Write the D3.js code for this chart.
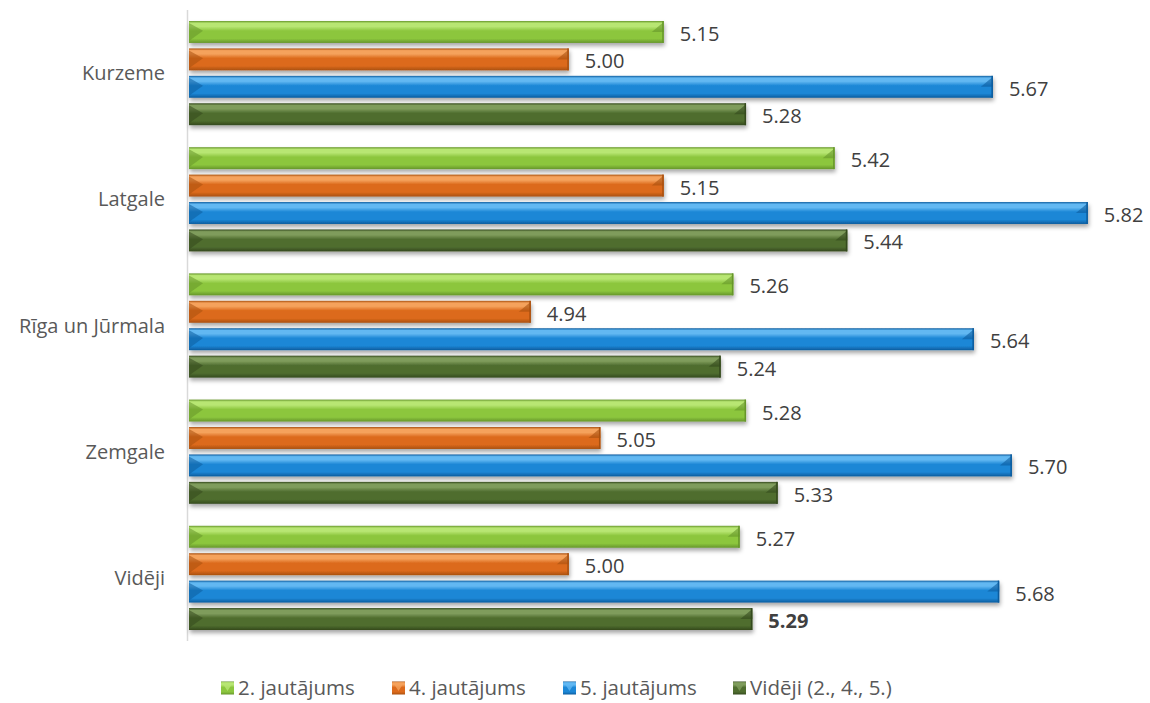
<!DOCTYPE html>
<html>
<head>
<meta charset="utf-8">
<script src="https://cdn.jsdelivr.net/npm/d3@7"></script>
<style>
  body { margin: 0; background: #fff; }
  svg text { font-family: "Open Sans", "DejaVu Sans", sans-serif; }
</style>
</head>
<body>
<svg id="chart" width="1150" height="703"></svg>
<script>
// data
const regions = ["Kurzeme", "Latgale", "Rīga un Jūrmala", "Zemgale", "Vidēji"];
const seriesNames = ["2. jautājums", "4. jautājums", "5. jautājums", "Vidēji (2., 4., 5.)"];
const q2 = [5.15, 5.42, 5.26, 5.28, 5.27];
const q4 = [5.00, 5.15, 4.94, 5.05, 5.00];
const q5 = [5.67, 5.82, 5.64, 5.70, 5.68];
const avg = [5.28, 5.44, 5.24, 5.33, 5.29];

const seriesValues = [q2, q4, q5, avg];
// main / light / dark shades per series
const shades = [
  ["#8cc63e", "#b8e673", "#66962a"],
  ["#dc6a1c", "#f5a25c", "#a9500f"],
  ["#1c87d6", "#62b8f2", "#0c5c9e"],
  ["#4f6d2f", "#7f9c5c", "#34491d"]
];

const svg = d3.select("#chart");

let defs = svg.append("defs");
let f = defs.append("filter").attr("id", "shadow")
    .attr("x", "-5%").attr("y", "-30%").attr("width", "110%").attr("height", "180%");
f.append("feDropShadow").attr("dx", 1).attr("dy", 3).attr("stdDeviation", 2)
    .attr("flood-color", "#000").attr("flood-opacity", 0.35);

shades.forEach(function (s, i) {
  let g = defs.append("linearGradient").attr("id", "grad" + i)
      .attr("x1", 0).attr("y1", 0).attr("x2", 0).attr("y2", 1);
  g.append("stop").attr("offset", "0%").attr("stop-color", s[2]);
  g.append("stop").attr("offset", "10%").attr("stop-color", s[1]);
  g.append("stop").attr("offset", "25%").attr("stop-color", s[1]);
  g.append("stop").attr("offset", "45%").attr("stop-color", s[0]);
  g.append("stop").attr("offset", "80%").attr("stop-color", s[0]);
  g.append("stop").attr("offset", "100%").attr("stop-color", s[2]);
});

// scales
let x = d3.scaleLinear().domain([4.4, 5.9]).range([189, 189 + 1.5 * 633]);
let y0 = d3.scaleBand().domain(regions).range([10, 641]);
let y1 = d3.scaleBand().domain(d3.range(seriesNames.length))
    .range([11, y0.bandwidth() - 11]).paddingInner(0.2);

// axis line
svg.append("line")
    .attr("x1", 187.5).attr("x2", 187.5).attr("y1", 10).attr("y2", 641)
    .attr("stroke", "#d9d9d9").attr("stroke-width", 1.5);

// category labels
svg.selectAll("text.cat").data(regions).enter()
  .append("text").attr("class", "cat")
    .attr("x", 165)
    .attr("y", d => y0(d) + y0.bandwidth() / 2)
    .attr("dy", "0.35em")
    .attr("text-anchor", "end")
    .attr("font-size", 20)
    .attr("fill", "#595959")
    .text(d => d);

// bars
let rows = [];
regions.forEach(function (r, ri) {
  seriesValues.forEach(function (vals, si) {
    rows.push({ region: r, ri: ri, si: si, value: vals[ri] });
  });
});

const bh = y1.bandwidth();
let bars = svg.selectAll("g.bar").data(rows).enter()
  .append("g").attr("class", "bar")
    .attr("transform", d => "translate(0," + (y0(d.region) + y1(d.si)) + ")");

bars.append("rect")
    .attr("x", x(4.4))
    .attr("y", 0)
    .attr("width", d => x(d.value) - x(4.4))
    .attr("height", bh)
    .attr("fill", d => "url(#grad" + d.si + ")")
    .attr("filter", "url(#shadow)");

// bevel at the left end
bars.append("path")
    .attr("d", function (d) {
      let x0 = x(4.4);
      return "M" + x0 + ",2 L" + (x0 + 14) + "," + (bh * 0.45) + " L" + x0 + "," + (bh - 2) + "Z";
    })
    .attr("fill", d => shades[d.si][2]).attr("opacity", 0.55);

// bevel at the right end
bars.append("path")
    .attr("d", function (d) {
      let xe = x(d.value);
      return "M" + xe + ",1 L" + (xe - 12) + "," + (bh * 0.5) + " L" + xe + "," + (bh * 0.5) + "Z";
    })
    .attr("fill", d => shades[d.si][2]).attr("opacity", 0.6);

bars.append("rect")
    .attr("x", d => x(d.value) - 1.5).attr("y", 0)
    .attr("width", 1.5).attr("height", bh)
    .attr("fill", d => shades[d.si][2]);

// value labels
bars.append("text")
    .attr("x", d => x(d.value) + 16)
    .attr("y", bh / 2 + 2)
    .attr("dy", "0.35em")
    .attr("font-size", 20)
    .attr("fill", "#404040")
    .attr("font-weight", d => (d.ri === regions.length - 1 && d.si === 3) ? 700 : 400)
    .text(d => d.value.toFixed(2));

// legend
const legendX = [221, 392, 563, 733];
let legend = svg.selectAll("g.legend").data(seriesNames).enter()
  .append("g").attr("class", "legend")
    .attr("transform", (d, i) => "translate(" + legendX[i] + ",688)");

legend.append("rect")
    .attr("x", 0).attr("y", -6.5).attr("width", 13).attr("height", 13)
    .attr("fill", (d, i) => "url(#grad" + i + ")");
legend.append("path")
    .attr("d", "M1,-5.5 L12,-5.5 L6.5,3 Z")
    .attr("fill", (d, i) => shades[i][1]).attr("opacity", 0.8);

legend.append("text")
    .attr("x", 17).attr("y", 0).attr("dy", "0.35em")
    .attr("font-size", 20.5).attr("fill", "#595959")
    .text(d => d);
</script>
</body>
</html>
